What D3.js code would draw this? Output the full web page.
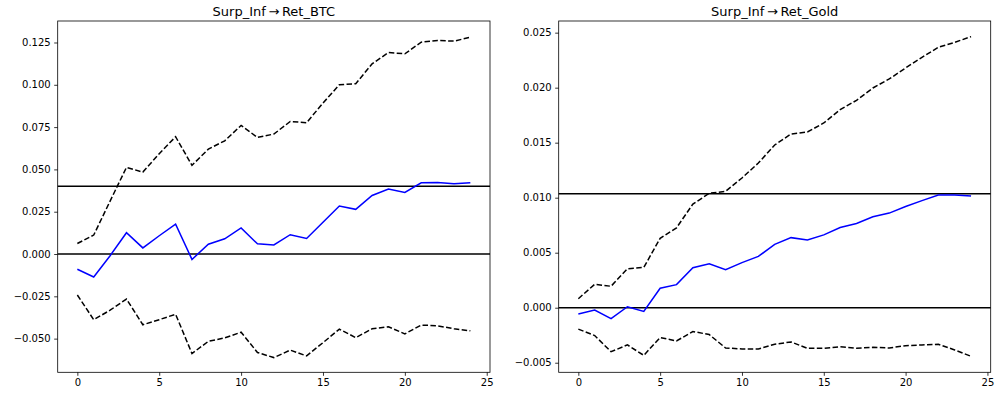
<!DOCTYPE html>
<html>
<head>
<meta charset="utf-8">
<script src="https://cdn.jsdelivr.net/npm/d3@7"></script>
<style>
  html, body { margin: 0; padding: 0; background: #fff; }
  svg { display: block; }
  text { font-family: "DejaVu Sans", sans-serif; fill: #000; }
</style>
</head>
<body>
<svg id="chart" width="997" height="398"></svg>
<script>
// Impulse response horizons
const horizons = d3.range(0, 25);

// Surp_Inf -> Ret_BTC
const btcIrf = [-0.009, -0.0136, -0.001, 0.0126, 0.0036, 0.0108, 0.0176, -0.0032, 0.0058, 0.009,
  0.0154, 0.006, 0.0054, 0.0114, 0.0092, 0.0188, 0.0284, 0.0264, 0.0346, 0.0384,
  0.0364, 0.0421, 0.0423, 0.0415, 0.0421];
const btcUpper = [0.0062, 0.0112, 0.0313, 0.0512, 0.0484, 0.0593, 0.0693, 0.0524, 0.062, 0.0669,
  0.076, 0.0689, 0.0709, 0.0783, 0.0776, 0.0892, 0.1, 0.1006, 0.1124, 0.1191,
  0.1183, 0.1252, 0.1262, 0.1258, 0.1281];
const btcLower = [-0.0242, -0.0388, -0.0332, -0.0266, -0.0418, -0.0388, -0.0356, -0.0588, -0.0516, -0.0496,
  -0.0462, -0.0582, -0.0612, -0.0568, -0.0602, -0.0524, -0.0444, -0.0494, -0.0442, -0.043,
  -0.0472, -0.042, -0.0424, -0.0442, -0.0454];
const btcRefLines = [0, 0.0401];
const btcYTicks = [-0.05, -0.025, 0, 0.025, 0.05, 0.075, 0.1, 0.125];

// Surp_Inf -> Ret_Gold
const goldIrf = [-0.00058, -0.00021, -0.001, 0.00009, -0.00034, 0.00177, 0.0021, 0.00363, 0.004, 0.00345,
  0.0041, 0.00466, 0.00576, 0.00637, 0.00616, 0.00662, 0.00729, 0.00765, 0.00826, 0.0086,
  0.0092, 0.00973, 0.01024, 0.01024, 0.01015];
const goldUpper = [0.00082, 0.00213, 0.00195, 0.00354, 0.00366, 0.00631, 0.00726, 0.00942, 0.0104, 0.01058,
  0.01179, 0.01315, 0.01479, 0.01579, 0.01597, 0.01679, 0.018, 0.01885, 0.01997, 0.02079,
  0.02179, 0.02276, 0.02367, 0.02412, 0.02464];
const goldLower = [-0.00195, -0.00253, -0.004, -0.00338, -0.00433, -0.00271, -0.00302, -0.00216, -0.00244, -0.00366,
  -0.00375, -0.00375, -0.00332, -0.00311, -0.00369, -0.00369, -0.00354, -0.00369, -0.0036, -0.00366,
  -0.00345, -0.00338, -0.00332, -0.00384, -0.00442];
const goldRefLines = [0, 0.01036];
const goldYTicks = [-0.005, 0, 0.005, 0.01, 0.015, 0.02, 0.025];

const xTicks = [0, 5, 10, 15, 20, 25];

const panels = [
  { title: "Surp_Inf\u2009\u2192\u2009Ret_BTC", irf: btcIrf, upper: btcUpper, lower: btcLower,
    refs: btcRefLines, yTicks: btcYTicks, left: 57.7, right: 490, yDomain: [-0.0699, 0.1377] },
  { title: "Surp_Inf\u2009\u2192\u2009Ret_Gold", irf: goldIrf, upper: goldUpper, lower: goldLower,
    refs: goldRefLines, yTicks: goldYTicks, left: 558.7, right: 990.7, yDomain: [-0.00587, 0.02606] }
];

const plotTop = 21, plotBottom = 372.3;
const svg = d3.select("#chart");
const fmt = d3.format(".3f");

panels.forEach(p => {
  const x = d3.scaleLinear().domain([-1.2, 25.2]).range([p.left, p.right]);
  const y = d3.scaleLinear().domain(p.yDomain).range([plotBottom, plotTop]);
  const g = svg.append("g");

  // reference lines
  p.refs.forEach(v => {
    g.append("line")
      .attr("x1", p.left).attr("x2", p.right)
      .attr("y1", y(v)).attr("y2", y(v))
      .attr("stroke", "#000").attr("stroke-width", 1.5);
  });

  const line = d3.line().x((d, i) => x(horizons[i])).y(d => y(d));

  // confidence bands
  [p.upper, p.lower].forEach(band => {
    g.append("path").datum(band)
      .attr("d", line)
      .attr("fill", "none")
      .attr("stroke", "#000")
      .attr("stroke-width", 1.5)
      .attr("stroke-dasharray", "5.5,2.4");
  });

  // impulse response
  g.append("path").datum(p.irf)
    .attr("d", line)
    .attr("fill", "none")
    .attr("stroke", "#0000ff")
    .attr("stroke-width", 1.5);

  // axes
  const yAxis = d3.axisLeft(y).tickValues(p.yTicks).tickFormat(fmt).tickSize(3.5).tickPadding(3.5);
  const xAxis = d3.axisBottom(x).tickValues(xTicks).tickFormat(d3.format("d")).tickSize(3.5).tickPadding(3.5);

  const ya = g.append("g").attr("transform", `translate(${p.left},0)`).call(yAxis);
  const xa = g.append("g").attr("transform", `translate(0,${plotBottom})`).call(xAxis);
  [ya, xa].forEach(a => {
    a.select(".domain").remove();
    a.selectAll(".tick line").attr("stroke", "#000").attr("stroke-width", 0.8);
    a.selectAll(".tick text").attr("font-size", 10).attr("font-family", "DejaVu Sans, sans-serif").attr("fill", "#000");
  });

  // frame
  g.append("rect")
    .attr("x", p.left).attr("y", plotTop)
    .attr("width", p.right - p.left).attr("height", plotBottom - plotTop)
    .attr("fill", "none").attr("stroke", "#000").attr("stroke-width", 0.8);

  // title
  g.append("text")
    .attr("x", (p.left + p.right) / 2).attr("y", plotTop - 5)
    .attr("text-anchor", "middle")
    .attr("font-size", 13)
    .text(p.title);
});
</script>
</body>
</html>
